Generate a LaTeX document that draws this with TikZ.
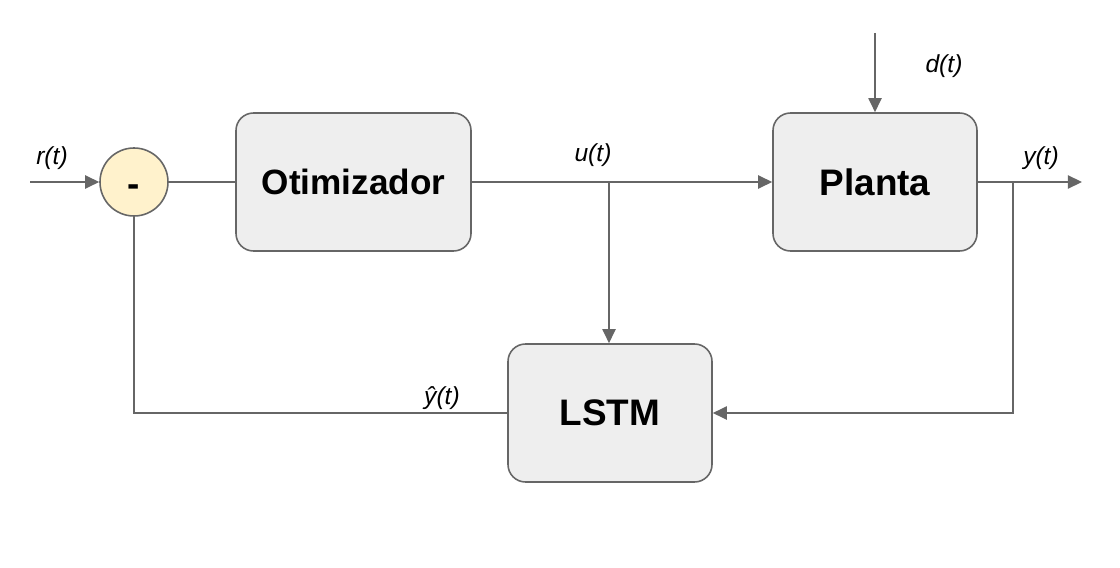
\documentclass[tikz,border=0pt]{standalone}
\usepackage{fontspec}
\setmainfont{Liberation Sans}
\usetikzlibrary{arrows.meta}

\definecolor{boxfill}{HTML}{EEEEEE}
\definecolor{sumfill}{HTML}{FFF2CC}
\definecolor{linegray}{HTML}{666666}

\begin{document}
\begin{tikzpicture}[
    block/.style={rectangle, rounded corners=0.35cm, draw=linegray, line width=0.9pt,
        fill=boxfill, minimum width=4.08cm, minimum height=2.76cm,
        font=\fontsize{21}{24}\selectfont\bfseries},
    sum/.style={circle, draw=linegray, line width=0.9pt, fill=sumfill,
        minimum size=1.36cm, inner sep=0pt, font=\fontsize{21}{24}\selectfont\bfseries},
    signal/.style={font=\fontsize{14}{16}\selectfont\itshape},
    wire/.style={draw=linegray, line width=0.9pt},
    arrow/.style={wire, -{Triangle[length=8pt,width=7.5pt]}}
]
    \useasboundingbox (0,0) rectangle (22.4,11.34);
    \node[sum] (s) at (2.68,7.7) {\raisebox{-0.4em}[0pt][0pt]{-}};
    \node[block, minimum width=4.7cm, font=\fontsize{20}{24}\selectfont\bfseries] (otim) at (7.07,7.7) {Otimizador};
    \node[block] (planta) at (17.5,7.7) {Planta};
    \node[block] (lstm) at (12.2,3.08) {LSTM};
    \coordinate (rin) at (0.6,7.7);
    \coordinate (din) at (17.5,10.68);
    \coordinate (yout) at (21.64,7.7);
    \coordinate (ubr) at (12.18,7.7);
    \coordinate (ybr) at (20.26,7.7);
    % labels
    \node[signal] (r) at (1.04,8.18) {r(t)};
    \node[signal] (u) at (11.86,8.24) {u(t)};
    \node[signal] (d) at (18.88,10.02) {d(t)};
    \node[signal] (y) at (20.82,8.18) {y(t)};
    \node[signal] (yh) at (8.84,3.38) {ŷ(t)};
    % connections
    \draw[arrow] (rin) -- (s);
    \draw[wire] (s) -- (otim);
    \draw[arrow] (otim) -- (planta);
    \draw[arrow] (ubr) -- (ubr |- lstm.north);
    \draw[arrow] (din) -- (planta);
    \draw[arrow] (planta) -- (yout);
    \draw[arrow] (ybr) |- (lstm);
    \draw[wire] (lstm) -| (s);
\end{tikzpicture}
\end{document}
